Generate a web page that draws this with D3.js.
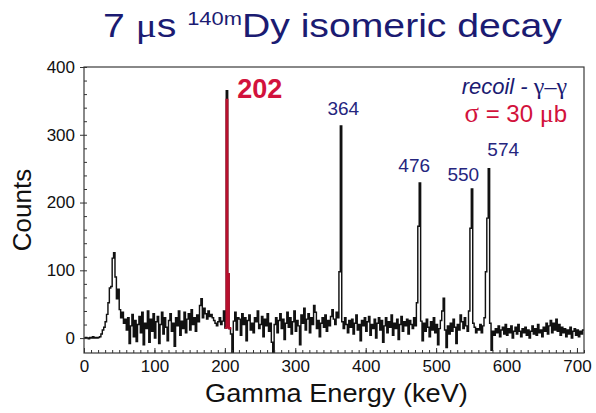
<!DOCTYPE html>
<html>
<head>
<meta charset="utf-8">
<script src="https://cdn.jsdelivr.net/npm/d3@7"></script>
<style>
  html, body { margin: 0; padding: 0; background: #fff; }
  svg { display: block; font-family: "Liberation Sans", Arial, sans-serif; }
</style>
</head>
<body>
<svg id="chart" width="596" height="413"></svg>
<script>
// Recoil-gated gamma spectrum, 2 keV per channel, starting at 0 keV
const binWidth = 2;
const counts = [
  0, 1, 0, -1, 1, 0, 2, 0, 1, 0,
  1, 2, 6, 12, 16, 24, 35, 52, 74, 76,
  118, 126, 90, 58, 72, 42, 30, 38, 22, 28,
  12, 30, -8, 18, 35, 2, 26, -5, 20, 32,
  8, 38, -10, 22, 14, 40, -6, 28, 10, 36,
  0, 24, 32, -8, 20, 38, 6, 30, 16, -4,
  26, 36, 10, 22, -12, 30, 18, 40, 4, 25,
  14, 38, 8, 28, 36, 12, 42, 20, 30, 10,
  34, 24, 48, 58, 30, 44, 36, 28, 40, 32,
  35, 30, 26, 22, 18, 24, 30, 20, 25, 40,
  15, 365, 95, 14, 6, -22, 25, 38, 12, 30,
  28, 4, 36, 20, 30, -4, 26, 34, 12, 22,
  8, 30, 24, 40, 14, 20, 32, 2, 28, 18,
  36, 10, 22, -6, -24, 20, 30, 8, 26, 36,
  14, 28, -2, 22, 38, 16, 30, 6, 24, 40,
  10, 26, 18, -10, 34, 22, 44, 12, 28, 36,
  8, 30, 20, 48, 38, 14, 26, 2, 22, 30,
  16, 34, 10, 26, 18, 32, 42, 28, 20, 38,
  30, 98, 313, 24, 14, 30, 20, 8, 26, 16,
  28, 6, 22, 34, 12, 20, -4, 26, 18, 30,
  10, 24, 32, 4, 20, 14, 28, 0, 22, 30,
  12, 26, -6, 18, 30, 8, 24, 16, 34, 4,
  22, 14, 28, -2, 20, 32, 10, 24, 18, 28,
  6, 26, 20, 14, 30, 18, 52, 165, 229, 25,
  -4, 22, 10, 28, 16, 2, 24, 12, 30, 8,
  20, -10, 14, 26, 40, 59, 12, -14, 18, 6,
  22, 10, 28, 16, -8, 20, 12, 34, 24, 14,
  30, 18, 10, 40, 162, 220, 22, 16, 8, 14,
  12, 20, 8, 18, 30, 98, 177, 250, 22, -18,
  10, 4, 14, 8, 18, 2, 12, 16, 6, 20,
  4, 14, 8, 18, 0, 10, 16, 6, 20, 10,
  2, 14, 8, 16, 4, 12, 0, 10, 18, 6,
  14, 4, 20, 8, 12, 2, 16, 10, 22, 6,
  18, 26, 8, 22, 12, 28, 10, 20, 4, 16,
  8, 14, 2, 12, 6, 16, 0, 10, 14, 4,
  12, 2, 10, 6, 12
];

// Labelled transitions (keV); the 202 keV line is the highlighted one
const peakEnergies = [364, 476, 550, 574];
const highlightEnergy = 202;

const xTicks = [0, 100, 200, 300, 400, 500, 600, 700];
const yTicks = [0, 100, 200, 300, 400];

// ---- layout ----
const svg = d3.select("#chart");
const plot = { left: 84, right: 584, top: 67, bottom: 353 };
const navy = "#1b1b72";
const crimson = "#d2123c";

const x = d3.scaleLinear().domain([0, 710]).range([plot.left, plot.right]);
const y = d3.scaleLinear().domain([-22, 400]).range([plot.bottom, plot.top]);

// stretch a text element horizontally so it spans a given width
function fitWidth(sel, width, anchorX) {
  const w = sel.node().getBBox().width;
  const k = width / w;
  sel.attr("transform", `translate(${anchorX},0) scale(${k},1) translate(${-anchorX},0)`);
}

// ---- title ----
const title = svg.append("text")
  .attr("x", 103).attr("y", 37)
  .attr("fill", navy)
  .style("font-size", "34px");
title.append("tspan").text("7 ");
title.append("tspan").style("font-family", "'Liberation Serif', serif").text("\u03BC");
title.append("tspan").text("s ");
title.append("tspan").attr("dy", -12).style("font-size", "19px").text("140m");
title.append("tspan").attr("dy", 12).text("Dy isomeric decay");
fitWidth(title, 459, 103);

// ---- spectrum ----
const points = counts.map((c, i) => [i * binWidth, c]);
points.push([counts.length * binWidth, counts[counts.length - 1]]);

svg.append("clipPath").attr("id", "plot-clip")
  .append("rect")
  .attr("x", plot.left).attr("y", plot.top)
  .attr("width", plot.right - plot.left).attr("height", plot.bottom - plot.top);

const line = d3.line()
  .x(d => x(d[0]))
  .y(d => y(d[1]))
  .curve(d3.curveStepAfter);

svg.append("path")
  .datum(points)
  .attr("clip-path", "url(#plot-clip)")
  .attr("fill", "none")
  .attr("stroke", "#111")
  .attr("stroke-width", 1.45)
  .attr("d", line);

// highlighted 202 keV line, filled from the local background level
const hiIdx = Math.floor(highlightEnergy / binWidth);
const hiPoints = d3.range(hiIdx - 1, hiIdx + 3).map(i => [i * binWidth, counts[i]]);
hiPoints.push([(hiIdx + 3) * binWidth, counts[hiIdx + 2]]);
const hiBase = counts[hiIdx - 1];
svg.append("path")
  .datum(hiPoints)
  .attr("fill", "#b8102e")
  .attr("stroke", "#b8102e")
  .attr("stroke-width", 1.6)
  .attr("d", d3.area()
    .x(d => x(d[0]))
    .y0(y(hiBase))
    .y1(d => y(Math.min(d[1], 352)))
    .curve(d3.curveStepAfter));

// ---- frame and axes ----
svg.append("rect")
  .attr("x", plot.left).attr("y", plot.top)
  .attr("width", plot.right - plot.left).attr("height", plot.bottom - plot.top)
  .attr("fill", "none").attr("stroke", "#3a3a3a").attr("stroke-width", 1.2);

// minor ticks pointing into the plot
const xMinor = svg.append("g")
  .attr("transform", `translate(0,${plot.bottom})`)
  .call(d3.axisBottom(x).tickValues(d3.range(0, 711, 10)).tickSize(-3).tickFormat(""));
const yMinor = svg.append("g")
  .attr("transform", `translate(${plot.left},0)`)
  .call(d3.axisLeft(y).tickValues(d3.range(0, 401, 20)).tickSize(-3).tickFormat(""));
[xMinor, yMinor].forEach(g => {
  g.select(".domain").remove();
  g.selectAll("line").attr("stroke", "#333");
});

const xAxis = svg.append("g")
  .attr("transform", `translate(0,${plot.bottom})`)
  .call(d3.axisBottom(x).tickValues(xTicks).tickSize(-5).tickPadding(7));
const yAxis = svg.append("g")
  .attr("transform", `translate(${plot.left},0)`)
  .call(d3.axisLeft(y).tickValues(yTicks).tickSize(4).tickPadding(5));
[xAxis, yAxis].forEach(g => {
  g.select(".domain").remove();
  g.selectAll("line").attr("stroke", "#333");
  g.selectAll("text")
    .attr("fill", "#111")
    .style("font-family", "'Liberation Sans', Arial, sans-serif")
    .style("font-size", "17px");
});

// axis titles
const xTitle = svg.append("text")
  .attr("x", 205).attr("y", 402)
  .attr("fill", "#111")
  .style("font-size", "26px")
  .text("Gamma Energy (keV)");
fitWidth(xTitle, 263, 205);

svg.append("text")
  .attr("transform", "translate(31,210) rotate(-90)")
  .attr("text-anchor", "middle").attr("fill", "#111")
  .style("font-size", "26px")
  .text("Counts");

// ---- peak annotations ----
const labelOffset = { 364: [3, -11], 476: [-5, -11], 550: [-8, -8], 574: [15, -13] };
peakEnergies.forEach(e => {
  const i = Math.floor(e / binWidth);
  const top = d3.max(counts.slice(i - 1, i + 2));
  const [dx, dy] = labelOffset[e];
  svg.append("text")
    .attr("x", x(e) + dx).attr("y", y(top) + dy)
    .attr("text-anchor", "middle").attr("fill", "#25257e")
    .style("font-size", "19px")
    .text(e);
});

svg.append("text")
  .attr("x", x(highlightEnergy) + 11).attr("y", 98)
  .attr("fill", crimson)
  .style("font-size", "27px").style("font-weight", "bold")
  .text(highlightEnergy);

// gating condition and cross section
const gate = svg.append("text")
  .attr("x", 567).attr("y", 94).attr("text-anchor", "end")
  .attr("fill", navy).style("font-size", "22px");
gate.append("tspan").style("font-style", "italic").text("recoil -  ");
gate.append("tspan").style("font-family", "'Liberation Serif', serif").style("font-size", "24px").text("\u03B3\u2013\u03B3");

const sigma = svg.append("text")
  .attr("x", 567).attr("y", 122).attr("text-anchor", "end")
  .attr("fill", crimson).style("font-size", "24px");
sigma.append("tspan").style("font-family", "'Liberation Serif', serif").style("font-size", "27px").text("\u03C3");
sigma.append("tspan").text(" = 30 ");
sigma.append("tspan").style("font-family", "'Liberation Serif', serif").style("font-size", "26px").text("\u03BC");
sigma.append("tspan").text("b");
</script>
</body>
</html>
